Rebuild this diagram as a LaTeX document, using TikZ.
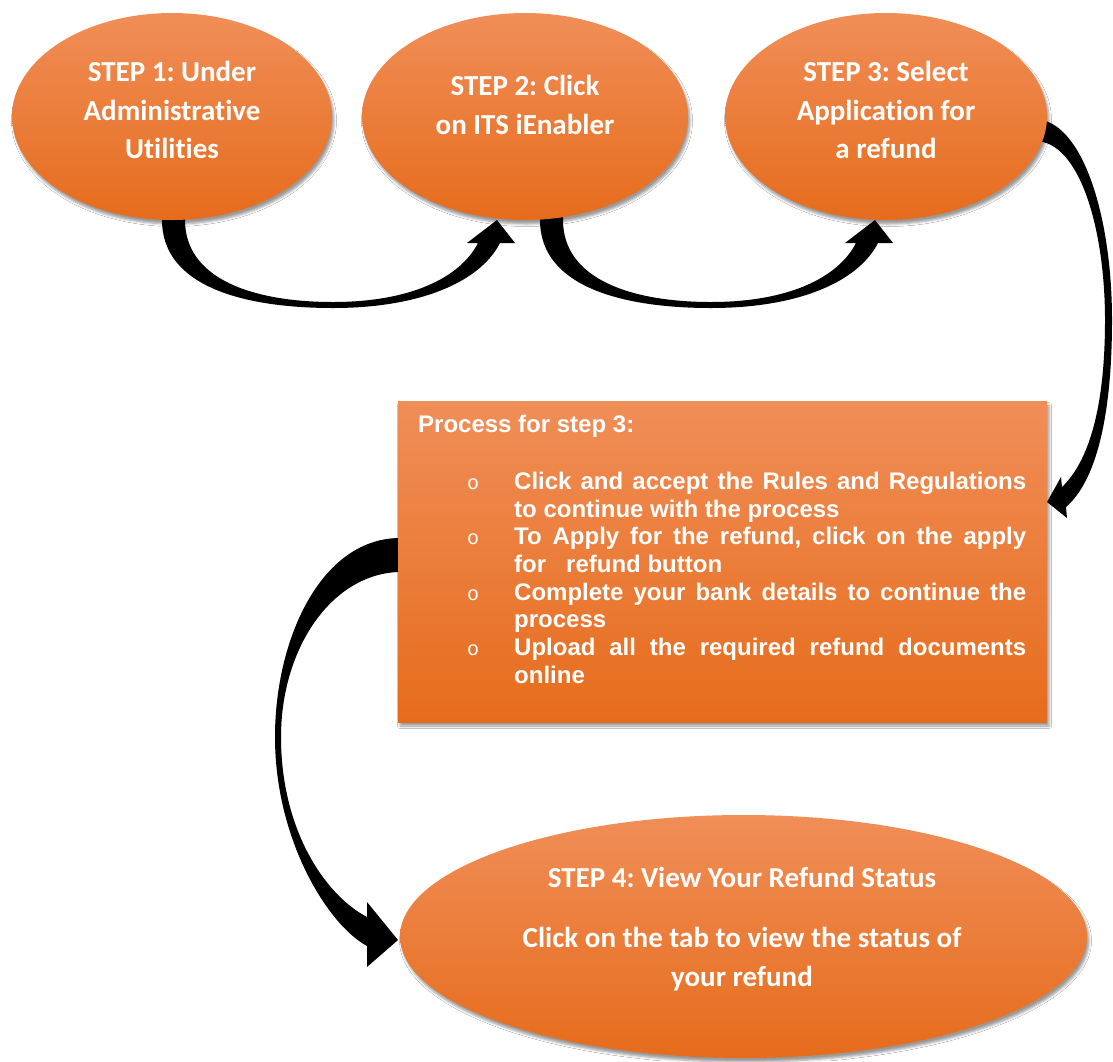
\documentclass[tikz,border=0pt]{standalone}
\usepackage{fontspec}
\setmainfont{Carlito}[RawFeature={-liga;-clig;-dlig}]
\newfontfamily\arialfont{Liberation Sans}
\newfontfamily\monofont{Liberation Mono}
\usetikzlibrary{shapes.geometric,shadows.blur}
\frenchspacing

\definecolor{otop}{RGB}{240,142,88}
\definecolor{omid}{RGB}{243,128,46}
\definecolor{obot}{RGB}{230,108,28}

\tikzset{
  orangefill/.style={top color=otop, middle color=omid, bottom color=obot, draw=none, inner sep=0pt,
    blur shadow={shadow xshift=2pt, shadow yshift=-4pt, shadow blur radius=2.5pt, shadow opacity=40}},
  stepell/.style={orangefill, ellipse},
  steptext/.style={text=white, font=\bfseries\fontsize{29}{38.5}\selectfont, align=center, inner sep=0pt, anchor=north},
  boxtext/.style={text=white, font=\arialfont\bfseries\fontsize{24}{27.7}\selectfont, inner sep=0pt},
  blockarrow/.style={fill=black, draw=none},
  curvedup/.pic={
    \fill[blockarrow] (162,205) -- (162,220) .. controls (162,287) and (245,308) .. (333,308)
      .. controls (420,308) and (480,282) .. (500,243) -- (515,243) -- (497,220) -- (467,243) -- (478,243)
      .. controls (460,278) and (410,302) .. (333,302) .. controls (255,302) and (185,280) .. (185,220)
      -- (185,205) -- cycle;
  }
}

\newcommand{\bul}{\noindent\llap{\makebox[47pt][l]{\monofont\mdseries\fontsize{20}{20}\selectfont o}}}

\begin{document}
\begin{tikzpicture}[x=1pt,y=-1pt]
\fill[white] (0,0) rectangle (1113,1061);
\useasboundingbox (0,0) rectangle (1113,1061);

% block arrows
\pic at (0,0) {curvedup};
\pic at (378,0) {curvedup};
\fill[blockarrow] (1035,119) .. controls (1082,120) and (1112,215) .. (1112,320)
  .. controls (1112,420) and (1095,482) .. (1066,507) -- (1067,518) -- (1047,502) -- (1061,477) -- (1062,487)
  .. controls (1088,462) and (1105,410) .. (1105,320) .. controls (1105,230) and (1080,141) .. (1035,141) -- cycle;
\fill[blockarrow] (405,538) -- (398,538) .. controls (320,540) and (275,640) .. (275,737)
  .. controls (275,840) and (328,925) .. (367,946) -- (367,967) -- (398,940) -- (367,902) -- (367,917)
  .. controls (325,895) and (281,830) .. (281,737) .. controls (281,650) and (330,575) .. (398,572) -- (405,572) -- cycle;

% shapes
\node[stepell, minimum width=320pt, minimum height=207pt] (e1) at (172,116.5) {};
\node[stepell, minimum width=326pt, minimum height=207pt] (e2) at (525,116.5) {};
\node[stepell, minimum width=322pt, minimum height=207pt] (e3) at (886,116.5) {};
\node[orangefill, minimum width=649pt, minimum height=321pt] (box) at (722.5,561.5) {};
\node[stepell, minimum width=687pt, minimum height=243pt] (e4) at (743.5,936.5) {};

% texts
\node[steptext] (t1) at (172,61) {STEP 1: Under\\Administrative\\Utilities};
\node[steptext] (t2) at (525,75) {STEP 2: Click\\on ITS iEnabler};
\node[steptext] (t3) at (886,61) {STEP 3: Select\\Application for\\a refund};
\node[steptext] (t4) at (742,867) {STEP 4: View Your Refund Status\\[21.5pt]Click on the tab to view the status of\\your refund};

\node[boxtext, anchor=base west] (ph) at (418,432.5) {Process for step 3:};
\node[boxtext, anchor=north west, text width=512pt, align=justify] (pl) at (514,471.8) {%
\bul Click and accept the Rules and Regulations\linebreak to continue with the process\par
\bul To Apply for the refund, click on the apply\linebreak for\ \ \ refund button\par
\bul Complete your bank details to continue the\linebreak process\par
\bul Upload all the required refund documents\linebreak online\par};
\end{tikzpicture}
\end{document}
